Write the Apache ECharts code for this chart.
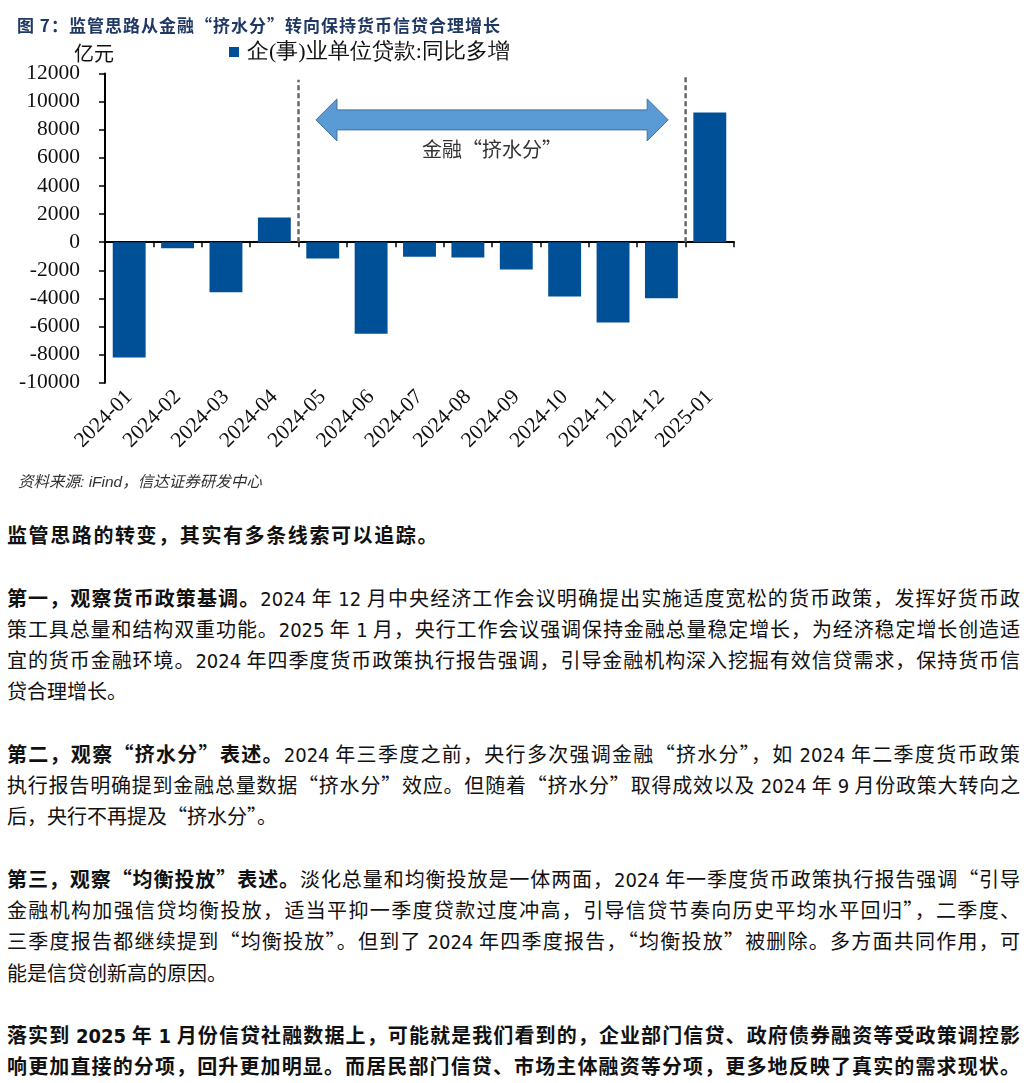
<!DOCTYPE html>
<html>
<head>
<meta charset="utf-8">
<script src="https://cdn.jsdelivr.net/npm/echarts@6/dist/echarts.min.js"></script>
<style>
  html, body { margin:0; padding:0; background:#fff; }
  body { width:1028px; height:1083px; position:relative; overflow:hidden; }
  #chart { position:absolute; left:0; top:0; width:1028px; height:500px; }
  #title { position:absolute; left:17px; top:12px; font-family:"Noto Sans CJK SC", sans-serif; font-weight:700; font-size:17px; letter-spacing:1px; color:#1F3864; white-space:nowrap; }
  #source { position:absolute; left:18px; top:469px; font-family:"Noto Sans CJK SC", sans-serif; font-style:italic; font-size:15.5px; color:#333; white-space:nowrap; }
  #source .en { font-family:"Liberation Sans", Arial, sans-serif; }
  #text { position:absolute; left:7px; top:519px; width:1013px; font-family:"Noto Sans CJK SC", sans-serif; font-size:20px; line-height:31.25px; color:#111; }
  #text .l { height:31.25px; white-space:nowrap; }
  #text .j { text-align:justify; text-align-last:justify; white-space:normal; overflow:hidden; }
  #text b, #text .b { font-weight:700; }
  #text .n { font-family:"DejaVu Sans Condensed", "Liberation Sans", sans-serif; }
</style>
</head>
<body>
<div id="chart"></div>
<div id="title">图 7：监管思路从金融“挤水分”转向保持货币信贷合理增长</div>
<div id="source">资料来源<span class="en">: iFind</span>，信达证券研发中心</div>
<div id="text">
  <div class="l b" style="letter-spacing:1.6px">监管思路的转变，其实有多条线索可以追踪。</div>
  <div class="l"></div>
  <div class="l j"><b>第一，观察货币政策基调。</b><span class="n">2024</span> 年 <span class="n">12</span> 月中央经济工作会议明确提出实施适度宽松的货币政策，发挥好货币政</div>
  <div class="l j">策工具总量和结构双重功能。<span class="n">2025</span> 年 <span class="n">1</span> 月，央行工作会议强调保持金融总量稳定增长，为经济稳定增长创造适</div>
  <div class="l j">宜的货币金融环境。<span class="n">2024</span> 年四季度货币政策执行报告强调，引导金融机构深入挖掘有效信贷需求，保持货币信</div>
  <div class="l">贷合理增长。</div>
  <div class="l"></div>
  <div class="l j"><b>第二，观察“挤水分”表述。</b><span class="n">2024</span> 年三季度之前，央行多次强调金融“挤水分”，如 <span class="n">2024</span> 年二季度货币政策</div>
  <div class="l j">执行报告明确提到金融总量数据“挤水分”效应。但随着“挤水分”取得成效以及 <span class="n">2024</span> 年 <span class="n">9</span> 月份政策大转向之</div>
  <div class="l">后，央行不再提及“挤水分”。</div>
  <div class="l"></div>
  <div class="l j"><b>第三，观察“均衡投放”表述。</b>淡化总量和均衡投放是一体两面，<span class="n">2024</span> 年一季度货币政策执行报告强调“引导</div>
  <div class="l j">金融机构加强信贷均衡投放，适当平抑一季度贷款过度冲高，引导信贷节奏向历史平均水平回归”，二季度、</div>
  <div class="l j">三季度报告都继续提到“均衡投放”。但到了 <span class="n">2024</span> 年四季度报告，“均衡投放”被删除。多方面共同作用，可</div>
  <div class="l">能是信贷创新高的原因。</div>
  <div class="l"></div>
  <div class="l j b">落实到 <span class="n">2025</span> 年 <span class="n">1</span> 月份信贷社融数据上，可能就是我们看到的，企业部门信贷、政府债券融资等受政策调控影</div>
  <div class="l j b">响更加直接的分项，回升更加明显。而居民部门信贷、市场主体融资等分项，更多地反映了真实的需求现状。</div>
</div>
<script>
// ---- data ----
const categories = ['2024-01','2024-02','2024-03','2024-04','2024-05','2024-06','2024-07','2024-08','2024-09','2024-10','2024-11','2024-12','2025-01'];
const seriesName = '企(事)业单位贷款:同比多增';
const loanIncrease = [-8200, -430, -3560, 1750, -1170, -6510, -1030, -1100, -1940, -3860, -5710, -4000, 9220];
const yMin = -10000;
const yMax = 12000;
const yInterval = 2000;
const unitLabel = '亿元';
// annotations: dashed dividers after these months, up to these values
const dividerAfter = ['2024-04', '2024-12'];
const dividerTop = [11550, 11900];
// double arrow spanning these months at this value, with its label
const arrowFrom = '2024-05';
const arrowTo = '2024-12';
const arrowValue = 8700;
const arrowLabel = '金融“挤水分”';
const arrowLabelValue = 6570;

// ---- chart ----
const chart = echarts.init(document.getElementById('chart'), null, { renderer: 'canvas' });
const serif = 'Liberation Serif, Times New Roman, serif';
const cjk = 'Noto Sans CJK SC, sans-serif';

const dividerData = dividerAfter.map((c, i) => [categories.indexOf(c), dividerTop[i]]);
const arrowData = [[categories.indexOf(arrowFrom), categories.indexOf(arrowTo), arrowValue, arrowLabelValue]];

const option = {
  animation: false,
  backgroundColor: '#fff',
  textStyle: { fontFamily: serif },
  grid: { left: 105, top: 73.5, width: 629, height: 309.2, containLabel: false },
  legend: {
    data: [seriesName],
    left: 229, top: 41, padding: 0,
    itemWidth: 10, itemHeight: 10, itemGap: 10,
    icon: 'rect',
    textStyle: { fontFamily: serif, fontSize: 22, color: '#111', padding: [0, 0, 0, 3] }
  },
  graphic: [
    { type: 'text', left: 74, top: 43, style: { text: unitLabel, fontFamily: cjk, fontSize: 20, fill: '#111' } }
  ],
  xAxis: [
    {
      type: 'category', data: categories, position: 'bottom',
      axisLine: { show: true, onZero: true, lineStyle: { color: '#000', width: 2 } },
      axisTick: { show: true, inside: false, length: 5, interval: 0, lineStyle: { color: '#000', width: 1.5 } },
      axisLabel: { show: false },
      splitLine: { show: false }
    },
    {
      type: 'category', data: categories, position: 'bottom',
      axisLine: { show: false, onZero: false },
      axisTick: { show: false },
      axisLabel: { show: true, interval: 0, rotate: 45, margin: 11, fontFamily: serif, fontSize: 21.5, color: '#111' },
      splitLine: { show: false }
    }
  ],
  yAxis: {
    type: 'value', min: yMin, max: yMax, interval: yInterval,
    axisLine: { show: true, lineStyle: { color: '#000', width: 2 } },
    axisTick: { show: true, length: 6, lineStyle: { color: '#000', width: 1.5 } },
    axisLabel: { margin: 25, fontFamily: serif, fontSize: 21.5, color: '#111', formatter: function (v) { return String(v); } },
    splitLine: { show: false }
  },
  series: [
    {
      name: seriesName, type: 'bar', xAxisIndex: 0, yAxisIndex: 0,
      data: loanIncrease, barWidth: '68%',
      itemStyle: { color: '#005097' }
    },
    {
      type: 'custom', xAxisIndex: 0, yAxisIndex: 0, silent: true, clip: false, z: 5,
      data: dividerData,
      encode: { x: 0, y: 1 },
      renderItem: function (params, api) {
        const idx = api.value(0);
        const top = api.value(1);
        const p0 = api.coord([idx, 0]);
        const p1 = api.coord([idx, top]);
        const half = api.size([1, 0])[0] / 2;
        return {
          type: 'line',
          shape: { x1: p0[0] + half, y1: p0[1], x2: p0[0] + half, y2: p1[1] },
          style: { stroke: '#666', lineWidth: 2.5, lineDash: [5, 3] }
        };
      }
    },
    {
      type: 'custom', xAxisIndex: 0, yAxisIndex: 0, silent: true, clip: false, z: 6,
      data: arrowData,
      encode: { x: [0, 1], y: [2, 3] },
      renderItem: function (params, api) {
        const band = api.size([1, 0])[0];
        const pA = api.coord([api.value(0), api.value(2)]);
        const pB = api.coord([api.value(1), api.value(2)]);
        const pL = api.coord([api.value(0), api.value(3)]);
        const xL = pA[0] - 0.14 * band, xR = pB[0] + 0.14 * band, y = pA[1];
        const hl = 21, hh = 21, sh = 10;
        const pts = [
          [xL, y], [xL + hl, y - hh], [xL + hl, y - sh], [xR - hl, y - sh], [xR - hl, y - hh],
          [xR, y], [xR - hl, y + hh], [xR - hl, y + sh], [xL + hl, y + sh], [xL + hl, y + hh]
        ];
        return {
          type: 'group',
          children: [
            { type: 'polygon', shape: { points: pts }, style: { fill: '#5B9BD5', stroke: '#41719C', lineWidth: 1 } },
            { type: 'text', x: (xL + xR) / 2, y: pL[1],
              style: { text: arrowLabel, fontFamily: cjk, fontSize: 20, fill: '#333', align: 'center', verticalAlign: 'middle' } }
          ]
        };
      }
    }
  ]
};
chart.setOption(option);
</script>
</body>
</html>
